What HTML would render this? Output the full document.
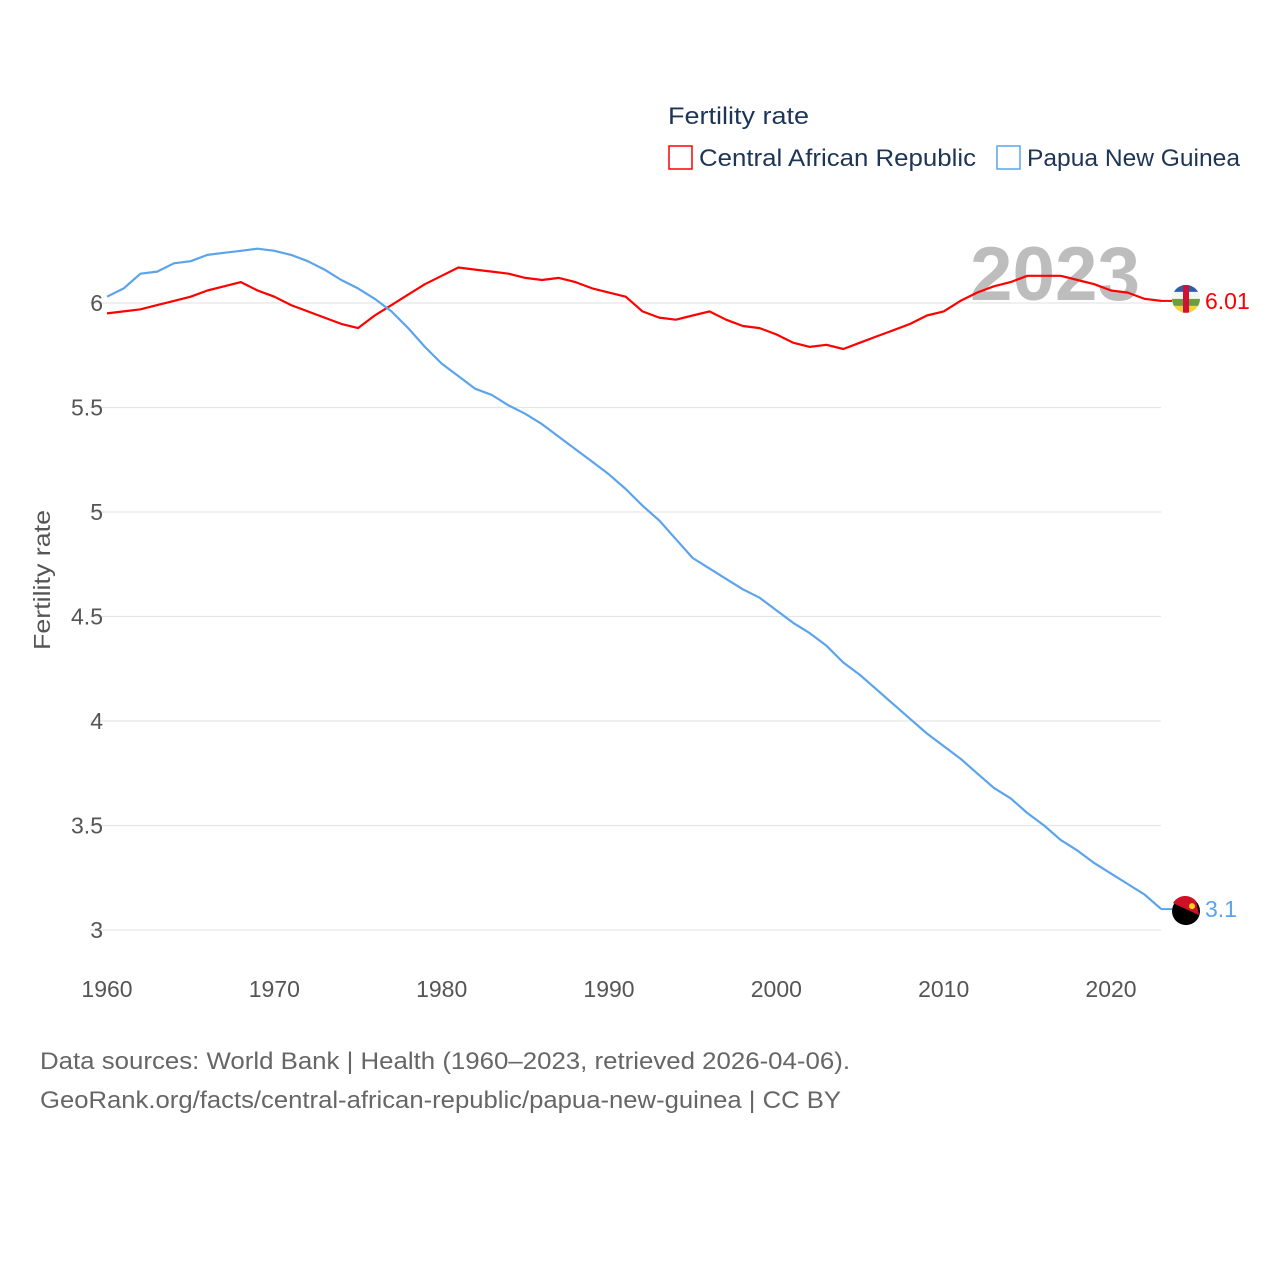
<!DOCTYPE html>
<html><head><meta charset="utf-8"><style>
body{margin:0;background:#fff;font-family:"Liberation Sans",sans-serif}
</style></head><body>
<svg width="1280" height="1280" viewBox="0 0 1280 1280" style="font-family:'Liberation Sans',sans-serif">
<defs><clipPath id="carClip"><circle cx="1186" cy="300" r="14"/></clipPath></defs>
<g id="grid"></g>
<g id="yticks"></g>
<g id="xticks"></g>
<text x="1055" y="300" text-anchor="middle" font-size="76" font-weight="bold" fill="#bdbdbd" textLength="170" lengthAdjust="spacingAndGlyphs">2023</text>
<g id="lines"></g>
<text transform="translate(50,580) rotate(-90)" text-anchor="middle" font-size="23" fill="#555" textLength="140" lengthAdjust="spacingAndGlyphs">Fertility rate</text>
<text x="668" y="124" font-size="24" fill="#1d3557" textLength="141" lengthAdjust="spacingAndGlyphs">Fertility rate</text>
<g>
<rect x="669" y="146" width="23" height="23" fill="none" stroke="#f00" stroke-width="1.5"/>
<text x="699" y="166" font-size="24" fill="#1d3557" textLength="277" lengthAdjust="spacingAndGlyphs">Central African Republic</text></g>
<g>
<rect x="997" y="146" width="23" height="23" fill="none" stroke="#5ba4ec" stroke-width="1.5"/>
<text x="1027" y="166" font-size="24" fill="#1d3557" textLength="213" lengthAdjust="spacingAndGlyphs">Papua New Guinea</text></g>
<g id="ends"></g>
<text x="40" y="1069" font-size="24" fill="#666" textLength="810" lengthAdjust="spacingAndGlyphs">Data sources: World Bank | Health (1960–2023, retrieved 2026-04-06).</text>
<text x="40" y="1108" font-size="24" fill="#666" textLength="801" lengthAdjust="spacingAndGlyphs">GeoRank.org/facts/central-african-republic/papua-new-guinea | CC BY</text>
</svg>
<script>
const years=[];for(let y=1960;y<=2023;y++)years.push(y);
const carValues=[5.95,5.96,5.97,5.99,6.01,6.03,6.06,6.08,6.10,6.06,6.03,5.99,5.96,5.93,5.90,5.88,5.94,5.99,6.04,6.09,6.13,6.17,6.16,6.15,6.14,6.12,6.11,6.12,6.10,6.07,6.05,6.03,5.96,5.93,5.92,5.94,5.96,5.92,5.89,5.88,5.85,5.81,5.79,5.80,5.78,5.81,5.84,5.87,5.90,5.94,5.96,6.01,6.05,6.08,6.10,6.13,6.13,6.13,6.11,6.09,6.06,6.05,6.02,6.01];
const pngValues=[6.03,6.07,6.14,6.15,6.19,6.20,6.23,6.24,6.25,6.26,6.25,6.23,6.20,6.16,6.11,6.07,6.02,5.96,5.88,5.79,5.71,5.65,5.59,5.56,5.51,5.47,5.42,5.36,5.30,5.24,5.18,5.11,5.03,4.96,4.87,4.78,4.73,4.68,4.63,4.59,4.53,4.47,4.42,4.36,4.28,4.22,4.15,4.08,4.01,3.94,3.88,3.82,3.75,3.68,3.63,3.56,3.50,3.43,3.38,3.32,3.27,3.22,3.17,3.10];
const yTicks=[3,3.5,4,4.5,5,5.5,6];
const xTicks=[1960,1970,1980,1990,2000,2010,2020];
const endLabels=["6.01","3.1"];
const NS="http://www.w3.org/2000/svg";
const xs=y=>107+(y-1960)*(1004/60);
const ys=v=>303+(6-v)*209;
function mk(t,a,p){const e=document.createElementNS(NS,t);for(const k in a)e.setAttribute(k,a[k]);p.appendChild(e);return e;}
const grid=document.getElementById('grid'),yt=document.getElementById('yticks'),xt=document.getElementById('xticks');
yTicks.forEach(v=>{
 const l=mk('line',{x1:90,x2:1161,y1:ys(v),y2:ys(v),stroke:'#e6e6e6','stroke-width':1.3},grid);
 
 
 const t=mk('text',{x:103,y:ys(v)+8,'text-anchor':'end','font-size':23,fill:'#555'},yt);t.textContent=String(v);
 
 
});
xTicks.forEach(y=>{
 const t=mk('text',{x:xs(y),y:997,'text-anchor':'middle','font-size':23,fill:'#555'},xt);t.textContent=String(y);
 
 
});
const lines=document.getElementById('lines'),ends=document.getElementById('ends');
[[carValues,'#f00','car'],[pngValues,'#5ba4ec','png']].forEach(([vals,c,n],i)=>{
 const d=vals.map((v,j)=>(j?'L':'M')+xs(years[j]).toFixed(1)+','+ys(v).toFixed(1)).join(' ');
 const p=mk('path',{d:d,fill:'none',stroke:c,'stroke-width':2.2,'stroke-linejoin':'round'},lines);
 
 
 const last=vals[vals.length-1],yy=ys(last);
 const seg=mk('line',{x1:1161,x2:1172,y1:yy,y2:yy,stroke:c,'stroke-width':2},ends);
 
 
 const g=mk('g',{},ends);
 
 
 if(n==='car'){
  const cy=yy-2;
  const cp=document.querySelector('#carClip circle');cp.setAttribute('cy',cy);
  g.setAttribute('clip-path','url(#carClip)');
  mk('rect',{x:1172,y:cy-14,width:28,height:7,fill:'#2a5db0'},g);
  mk('rect',{x:1172,y:cy-7,width:28,height:7,fill:'#f4f4f4'},g);
  mk('rect',{x:1172,y:cy,width:28,height:7,fill:'#6a9f3c'},g);
  mk('rect',{x:1172,y:cy+7,width:28,height:7,fill:'#f7d23a'},g);
  mk('rect',{x:1183,y:cy-14,width:6,height:28,fill:'#d21034'},g);
 }else{
  mk('circle',{cx:1186,cy:yy+2,r:14,fill:'#000'},g);
  mk('path',{d:`M1173,${yy-6} A14,14 0 0 1 1196,${yy-8} L1199,${yy+6} Z`,fill:'#ce1126'},g);
  mk('circle',{cx:1192,cy:yy-3,r:3,fill:'#fcd116'},g);
 }
 const t=mk('text',{x:1205,y:yy+8,'font-size':23,fill:c},ends);t.textContent=endLabels[i];
 
 
});
</script>
</body></html>
